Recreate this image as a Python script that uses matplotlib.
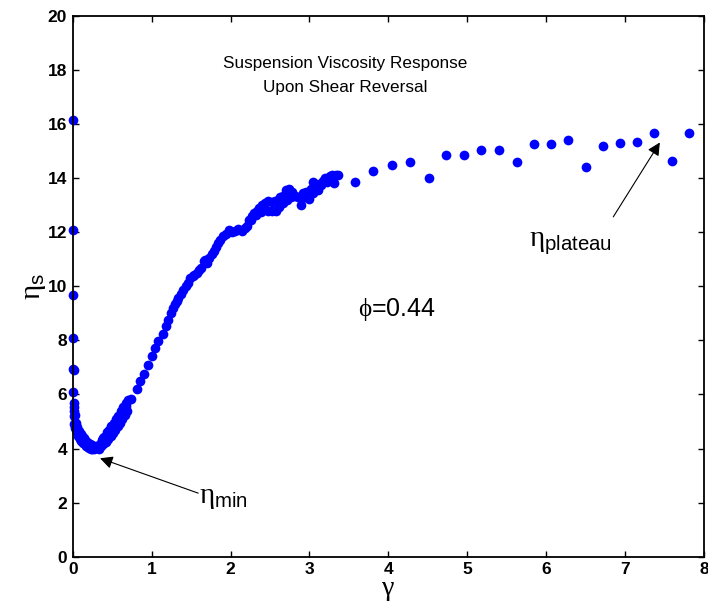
import matplotlib
matplotlib.use('Agg')
import matplotlib.pyplot as plt
import numpy as np

plt.rcParams['font.family'] = ['Liberation Sans', 'DejaVu Sans']
plt.rcParams['mathtext.fontset'] = 'custom'
plt.rcParams['mathtext.rm'] = 'Liberation Sans'
plt.rcParams['mathtext.it'] = 'Liberation Serif'
plt.rcParams['mathtext.bf'] = 'Liberation Sans:bold'

# strain gamma vs. suspension viscosity eta_s after shear reversal
# start-up at gamma = 0
gam_start = [0.0, 0.0, 0.0, 0.0, 0.005, 0.015, 0.005, 0.02, 0.01, 0.02, 0.01, 0.03, 0.02, 0.03]
eta_start = [16.15, 12.1, 9.68, 8.1, 6.95, 6.92, 6.08, 5.7, 5.38, 5.2, 4.9, 4.95, 5.55, 5.25]

# drop to the minimum
gam_drop = [0.03, 0.05, 0.07, 0.09, 0.11, 0.13, 0.15, 0.17, 0.19, 0.21, 0.23, 0.25, 0.27, 0.29,
            0.04, 0.06, 0.08, 0.10, 0.12, 0.14, 0.16, 0.18, 0.20, 0.22, 0.24, 0.26]
eta_drop = [4.75, 4.6, 4.45, 4.35, 4.27, 4.2, 4.15, 4.1, 4.06, 4.03, 4.0, 3.98, 3.99, 4.02,
            4.95, 4.8, 4.65, 4.55, 4.45, 4.38, 4.3, 4.25, 4.2, 4.15, 4.12, 4.1]

# recovery just after the minimum (passes on both sides of the band)
gam_rise = [0.31, 0.34, 0.37, 0.40, 0.43, 0.46, 0.49, 0.52, 0.55, 0.58, 0.61, 0.64, 0.67, 0.70, 0.74,
            0.33, 0.36, 0.39, 0.42, 0.45, 0.48, 0.51, 0.54, 0.57, 0.60, 0.63, 0.66, 0.69,
            0.38, 0.44, 0.50, 0.56, 0.62, 0.68]
eta_rise = [4.08, 4.18, 4.3, 4.42, 4.55, 4.68, 4.82, 4.95, 5.08, 5.22, 5.38, 5.55, 5.7, 5.8, 5.85,
            4.0, 4.08, 4.16, 4.26, 4.36, 4.48, 4.58, 4.7, 4.83, 4.96, 5.1, 5.25, 5.4,
            4.38, 4.6, 4.82, 5.05, 5.3, 5.58]

# steep growth
gam_grow = [0.81, 0.85, 0.90, 0.96, 1.00, 1.04, 1.08, 1.14, 1.18, 1.21, 1.24, 1.27, 1.30, 1.32,
            1.34, 1.37, 1.40, 1.43, 1.46, 1.49, 1.52, 1.54, 1.58, 1.60, 1.62, 1.66, 1.68, 1.70,
            1.73, 1.76, 1.79, 1.82, 1.84]
eta_grow = [6.2, 6.48, 6.77, 7.08, 7.44, 7.71, 7.96, 8.24, 8.52, 8.76, 9.0, 9.19, 9.36, 9.45,
            9.55, 9.7, 9.86, 10.0, 10.14, 10.3, 10.38, 10.43, 10.5, 10.6, 10.67, 10.92, 10.98, 10.85,
            11.05, 11.2, 11.3, 11.45, 11.6]

# approach to the plateau
gam_knee = [1.87, 1.90, 1.94, 1.98, 2.02, 2.06, 2.10, 2.14, 2.18, 2.21, 2.24, 2.27, 2.30, 2.33,
            2.36, 2.40, 2.44, 2.48, 2.52, 2.56, 2.60, 2.63, 2.66, 2.70, 2.74, 2.78, 2.82, 2.86,
            2.42, 2.47, 2.52, 2.57, 2.62, 2.67, 2.72, 2.76,
            2.89, 2.92, 2.96, 3.00, 3.02, 3.05, 3.08, 3.11, 3.14, 3.17, 3.20, 3.23, 3.26, 3.28,
            3.31, 3.33, 3.36,
            2.26, 2.32, 2.38, 2.94, 3.04, 3.12, 3.22]
eta_knee = [11.7, 11.85, 11.92, 12.08, 12.0, 12.05, 12.12, 12.03, 12.15, 12.22, 12.45, 12.6, 12.72, 12.8,
            12.9, 13.0, 13.1, 13.15, 13.12, 13.15, 13.2, 13.3, 13.35, 13.55, 13.6, 13.5, 13.35, 13.3,
            12.85, 12.8, 12.78, 12.8, 12.95, 13.1, 13.2, 13.3,
            13.0, 13.45, 13.5, 13.22, 13.6, 13.85, 13.7, 13.55, 13.75, 13.9, 14.0, 13.95, 14.08, 14.1,
            13.82, 14.12, 14.12,
            12.45, 12.65, 12.75, 13.3, 13.45, 13.8, 13.85]

# sparse points on the plateau
gam_plat = [3.58, 3.81, 4.04, 4.27, 4.51, 4.73, 4.96, 5.17, 5.40, 5.63,
            5.85, 6.06, 6.28, 6.51, 6.72, 6.94, 7.15, 7.36, 7.60, 7.81]
eta_plat = [13.85, 14.27, 14.47, 14.59, 14.0, 14.85, 14.85, 15.04, 15.04, 14.59,
            15.26, 15.26, 15.42, 14.43, 15.18, 15.31, 15.35, 15.67, 14.64, 15.67]

gamma = np.concatenate([gam_start, gam_drop, gam_rise, gam_grow, gam_knee, gam_plat])
eta_s = np.concatenate([eta_start, eta_drop, eta_rise, eta_grow, eta_knee, eta_plat])

fig = plt.figure(figsize=(7.08, 6.12), dpi=100)
ax = fig.add_axes([0.1027, 0.0904, 0.8917, 0.8835])

ax.plot(gamma, eta_s, 'o', color='blue', ms=7, mew=0, clip_on=False)

ax.set_xlim(0, 8)
ax.set_ylim(0, 20)
ax.set_xticks(range(0, 9))
ax.set_yticks(range(0, 21, 2))
ax.tick_params(direction='in', length=4.5, width=1, top=True, right=True,
               labelsize=12.5, pad=4)
for lab in ax.get_xticklabels() + ax.get_yticklabels():
    lab.set_fontweight('bold')
for sp in ax.spines.values():
    sp.set_linewidth(1.3)

ax.set_xlabel(r'$\gamma$', fontsize=20, labelpad=0)
ax.set_ylabel(r'$\eta_{\rm s}$', fontsize=21, labelpad=0)

ax.text(3.45, 17.78, 'Suspension Viscosity Response\nUpon Shear Reversal',
        ha='center', va='center', fontsize=12.3, linespacing=1.75)
ax.text(3.62, 9.13, r'$\phi$=0.44', ha='left', va='center', fontsize=18)

# arrows pointing at the minimum and at the plateau
ax.annotate('', xy=(0.346, 3.64), xytext=(1.59, 2.35),
            arrowprops=dict(arrowstyle='-|>', color='black', lw=0.8,
                            mutation_scale=19, shrinkA=0, shrinkB=0))
ax.annotate('', xy=(7.44, 15.32), xytext=(6.85, 12.57),
            arrowprops=dict(arrowstyle='-|>', color='black', lw=0.8,
                            mutation_scale=19, shrinkA=0, shrinkB=0))
ax.text(1.6, 2.2, r'$\eta_{\rm min}$', fontsize=21, ha='left', va='center')
ax.text(5.78, 11.65, r'$\eta_{\rm plateau}$', fontsize=21, ha='left', va='center')

fig.savefig('out.png', dpi=100)
